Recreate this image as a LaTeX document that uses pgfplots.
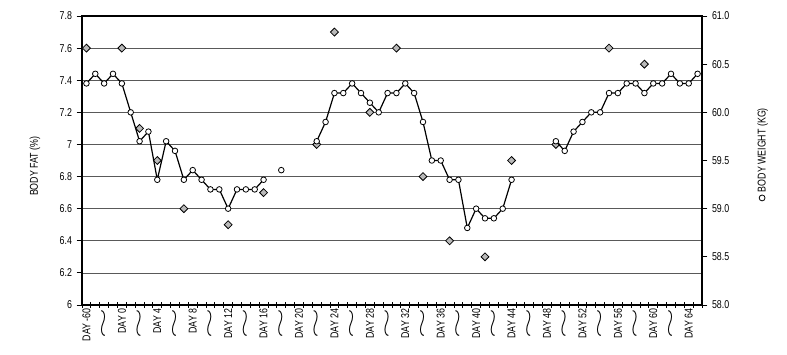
\documentclass[border=0pt]{standalone}
\usepackage{fontspec}
\setmainfont{Liberation Sans}[FakeStretch=0.78]
\usepackage{graphicx}
\usepackage{pgfplots}
\pgfplotsset{compat=1.18}
\usepackage{pgfplotstable}

\pgfplotstableread{
x y
0 7.6
4 7.6
6 7.1
8 6.9
11 6.6
16 6.5
20 6.7
26 7.0
28 7.7
32 7.2
35 7.6
38 6.8
41 6.4
45 6.3
48 6.9
53 7.0
59 7.6
63 7.5
}\fattable

\pgfplotstableread{
x y
0 60.3
1 60.4
2 60.3
3 60.4
4 60.3
5 60.0
6 59.7
7 59.8
8 59.3
9 59.7
10 59.6
11 59.3
12 59.4
13 59.3
14 59.2
15 59.2
16 59.0
17 59.2
18 59.2
19 59.2
20 59.3
21 nan
22 59.4
23 nan
26 59.7
27 59.9
28 60.2
29 60.2
30 60.3
31 60.2
32 60.1
33 60.0
34 60.2
35 60.2
36 60.3
37 60.2
38 59.9
39 59.5
40 59.5
41 59.3
42 59.3
43 58.8
44 59.0
45 58.9
46 58.9
47 59.0
48 59.3
49 nan
53 59.7
54 59.6
55 59.8
56 59.9
57 60.0
58 60.0
59 60.2
60 60.2
61 60.3
62 60.3
63 60.2
64 60.3
65 60.3
66 60.4
67 60.3
68 60.3
69 60.4
}\wtable

\newcommand{\sq}{\scalebox{3.4}[1.5]{$\sim$}}
\newcommand{\lf}{\fontsize{8.5}{10}\selectfont}

\begin{document}
\begin{tikzpicture}
\useasboundingbox (0,0) rectangle (590.25pt,265.5pt);
\begin{axis}[
  at={(61.5pt,36.75pt)}, anchor=south west,
  scale only axis, width=465pt, height=216.75pt,
  xmin=-0.5, xmax=69.5, ymin=6, ymax=7.8,
  ytick={6,6.2,6.4,6.6,6.8,7,7.2,7.4,7.6,7.8},
  xtick={-0.5,0.5,...,69.5}, xticklabels={},
  extra x ticks={0,2,...,68},
  extra x tick labels={DAY -60,\sq,DAY 0,\sq,DAY 4,\sq,DAY 8,\sq,DAY 12,\sq,DAY 16,\sq,DAY 20,\sq,DAY 24,\sq,DAY 28,\sq,DAY 32,\sq,DAY 36,\sq,DAY 40,\sq,DAY 44,\sq,DAY 48,\sq,DAY 52,\sq,DAY 56,\sq,DAY 60,\sq,DAY 64},
  extra x tick style={major tick length=0pt, xmajorgrids=false},
  xticklabel style={rotate=90, anchor=east, font=\lf, inner sep=2.5pt},
  yticklabel style={font=\lf},
  xtick pos=left, ytick pos=left,
  xtick align=center, ytick align=outside,
  major tick length=4pt,
  tick style={black, line width=0.6pt},
  ymajorgrids=true,
  grid style={black!65, line width=0.5pt},
  axis line style={black, line width=0.8pt},
  /pgf/number format/assume math mode=true,
  ylabel={BODY FAT (\%)},
  every axis y label/.style={at={(axis description cs:-0.0758,0.48)}, rotate=90, anchor=center, font=\lf},
]
\addplot[only marks, mark=square*, mark size=2.1pt, mark options={rotate=45, fill=gray!55, draw=black, line width=0.6pt}] table {\fattable};
\end{axis}
\begin{axis}[
  at={(61.5pt,36.75pt)}, anchor=south west,
  scale only axis, width=465pt, height=216.75pt,
  xmin=-0.5, xmax=69.5, ymin=58, ymax=61,
  axis y line*=right, axis x line=none,
  ytick={58,58.5,59,59.5,60,60.5,61},
  yticklabel style={font=\lf, /pgf/number format/fixed, /pgf/number format/fixed zerofill, /pgf/number format/precision=1},
  ytick align=outside, major tick length=4pt,
  tick style={black, line width=0.6pt},
  axis line style={black, line width=0.8pt},
  /pgf/number format/assume math mode=true,
  ylabel={\tikz[baseline=-0.6ex]\draw[line width=0.6pt] (0,0) circle (2.2pt);\ BODY WEIGHT (KG)},
  every axis y label/.style={at={(axis description cs:1.0980,0.52)}, rotate=90, anchor=center, font=\lf},
]
\addplot[black, line width=0.9pt, mark=*, mark size=2.1pt, mark options={fill=white, draw=black, line width=0.6pt}, unbounded coords=jump] table {\wtable};
\end{axis}
\end{tikzpicture}
\end{document}
